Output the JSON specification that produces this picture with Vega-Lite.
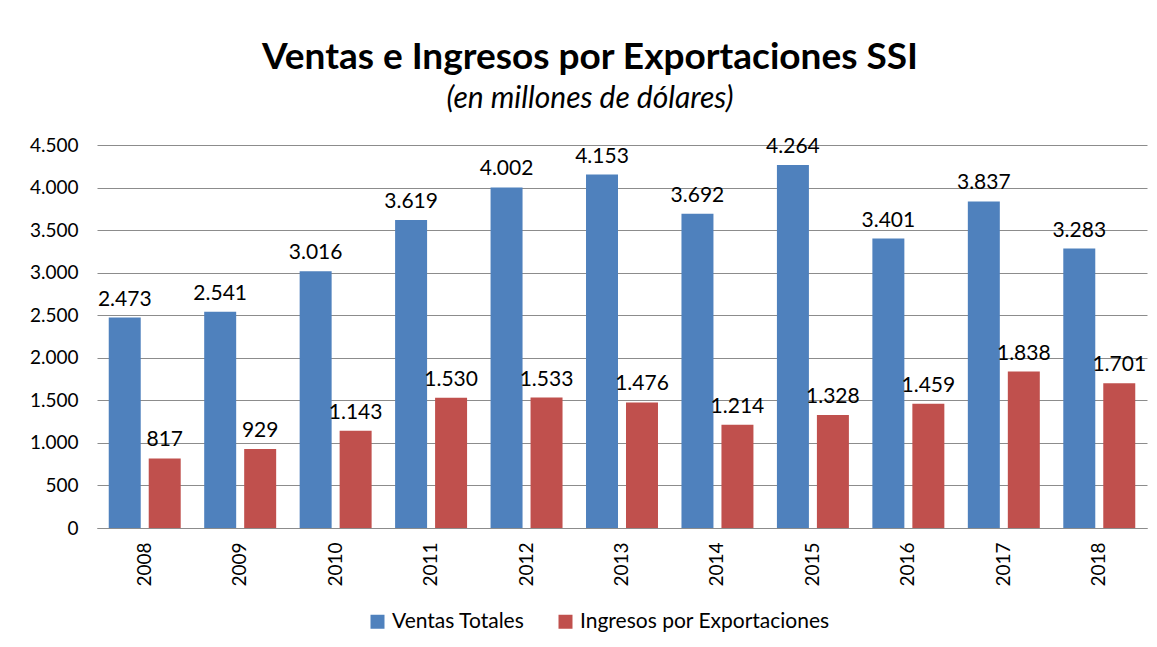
{
  "$schema": "https://vega.github.io/schema/vega-lite/v6.json",
  "autosize": {"type": "none"},
  "width": 1050,
  "height": 383,
  "padding": {"left": 97, "top": 145, "right": 10, "bottom": 119},
  "background": "white",
  "config": {
    "locale": {"number": {"decimal": ",", "thousands": ".", "grouping": [3], "currency": ["", ""]}},
    "font": "Lato",
    "view": {"stroke": null}
  },
  "title": {
    "text": "Ventas e Ingresos por Exportaciones SSI",
    "subtitle": "(en millones de dólares)",
    "anchor": "middle",
    "frame": "group",
    "dx": -32,
    "offset": 21,
    "font": "Lato",
    "fontSize": 37,
    "fontWeight": "bold",
    "color": "#000000",
    "subtitleFont": "Lato",
    "subtitleFontSize": 30,
    "subtitleFontStyle": "italic",
    "subtitleColor": "#000000",
    "subtitlePadding": 7
  },
  "data": {
    "values": [
      {"year": "2008", "serie": "Ventas Totales", "valor": 2473},
      {"year": "2008", "serie": "Ingresos por Exportaciones", "valor": 817},
      {"year": "2009", "serie": "Ventas Totales", "valor": 2541},
      {"year": "2009", "serie": "Ingresos por Exportaciones", "valor": 929},
      {"year": "2010", "serie": "Ventas Totales", "valor": 3016},
      {"year": "2010", "serie": "Ingresos por Exportaciones", "valor": 1143},
      {"year": "2011", "serie": "Ventas Totales", "valor": 3619},
      {"year": "2011", "serie": "Ingresos por Exportaciones", "valor": 1530},
      {"year": "2012", "serie": "Ventas Totales", "valor": 4002},
      {"year": "2012", "serie": "Ingresos por Exportaciones", "valor": 1533},
      {"year": "2013", "serie": "Ventas Totales", "valor": 4153},
      {"year": "2013", "serie": "Ingresos por Exportaciones", "valor": 1476},
      {"year": "2014", "serie": "Ventas Totales", "valor": 3692},
      {"year": "2014", "serie": "Ingresos por Exportaciones", "valor": 1214},
      {"year": "2015", "serie": "Ventas Totales", "valor": 4264},
      {"year": "2015", "serie": "Ingresos por Exportaciones", "valor": 1328},
      {"year": "2016", "serie": "Ventas Totales", "valor": 3401},
      {"year": "2016", "serie": "Ingresos por Exportaciones", "valor": 1459},
      {"year": "2017", "serie": "Ventas Totales", "valor": 3837},
      {"year": "2017", "serie": "Ingresos por Exportaciones", "valor": 1838},
      {"year": "2018", "serie": "Ventas Totales", "valor": 3283},
      {"year": "2018", "serie": "Ingresos por Exportaciones", "valor": 1701}
    ]
  },
  "encoding": {
    "x": {
      "field": "year", "type": "nominal",
      "scale": {"paddingInner": 0.246, "paddingOuter": 0.123},
      "axis": {
        "title": null, "labelAngle": -90, "labelFontSize": 19, "labelColor": "#000000",
        "labelPadding": 14, "domainColor": "#8c8c8c", "ticks": false, "labelFont": "Lato"
      }
    },
    "xOffset": {
      "field": "serie", "type": "nominal",
      "sort": ["Ventas Totales", "Ingresos por Exportaciones"],
      "scale": {"paddingInner": 0.2, "paddingOuter": 0}
    },
    "y": {
      "field": "valor", "type": "quantitative",
      "scale": {"domain": [0, 4500], "nice": false},
      "axis": {
        "title": null, "values": [0, 500, 1000, 1500, 2000, 2500, 3000, 3500, 4000, 4500],
        "format": ",d", "labelFontSize": 19, "labelColor": "#000000", "labelPadding": 19,
        "domain": false, "ticks": false, "gridColor": "#8c8c8c", "gridWidth": 1, "labelFont": "Lato"
      }
    }
  },
  "layer": [
    {
      "mark": {"type": "bar"},
      "encoding": {
        "color": {
          "field": "serie", "type": "nominal",
          "sort": ["Ventas Totales", "Ingresos por Exportaciones"],
          "scale": {"domain": ["Ventas Totales", "Ingresos por Exportaciones"], "range": ["#4F81BD", "#C0504D"]},
          "legend": {
            "title": null, "orient": "none", "direction": "horizontal",
            "legendX": 270, "legendY": 466, "symbolType": "square", "symbolSize": 196,
            "symbolStrokeWidth": 0, "labelFontSize": 21, "labelColor": "#000000",
            "labelLimit": 400, "labelOffset": 4, "columnPadding": 30, "labelFont": "Lato"
          }
        }
      }
    },
    {
      "mark": {"type": "text", "baseline": "bottom", "dy": -8, "fontSize": 21, "color": "#000000", "font": "Lato"},
      "encoding": {
        "text": {"field": "valor", "type": "quantitative", "format": ",d"}
      }
    }
  ]
}
